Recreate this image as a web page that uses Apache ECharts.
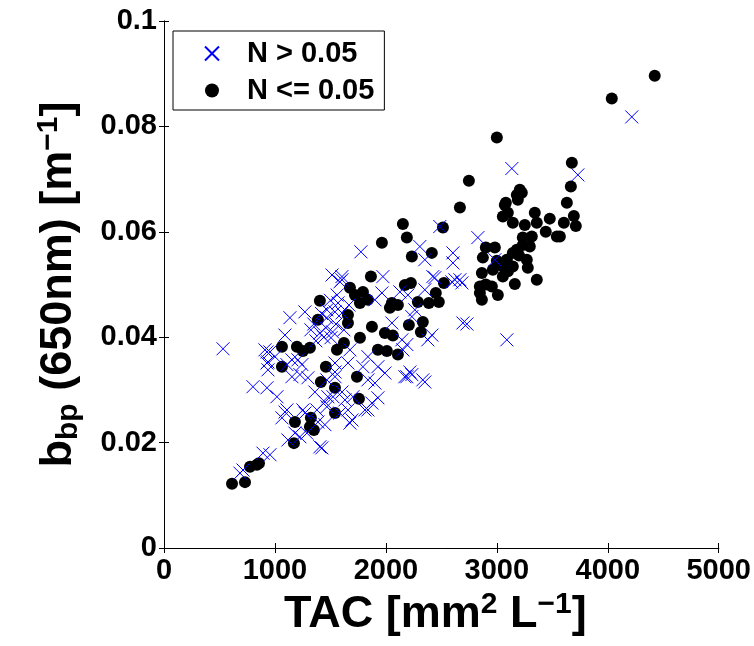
<!DOCTYPE html>
<html>
<head>
<meta charset="utf-8">
<script src="https://cdn.jsdelivr.net/npm/echarts@6/dist/echarts.min.js"></script>
<style>
html,body{margin:0;padding:0;background:#fff;}
#chart{width:754px;height:646px;}
</style>
</head>
<body>
<div id="chart"></div>
<script>
// ---- data (TAC [mm^2 L^-1], b_bp(650nm) [m^-1]) ----
const seriesNames = ['N > 0.05', 'N <= 0.05'];
const xTicks = [0, 1000, 2000, 3000, 4000, 5000];
const yTicks = [0, 0.02, 0.04, 0.06, 0.08, 0.1];

// N > 0.05 (blue crosses)
const crossData = [
  [4216,0.0818],[3730,0.0708],[3135,0.0720],[2829,0.0589],[2982,0.0547],[2685,0.0503],[2604,0.0560],[2604,0.0541],[2667,0.0509],[2486,0.0610],
  [1775,0.0562],[2306,0.0572],[2351,0.0547],[1973,0.0515],[2441,0.0513],[2622,0.0509],[2171,0.0325],[2216,0.0334],[2351,0.0315],[2730,0.0425],
  [3090,0.0395],[1694,0.0243],[1838,0.0262],[1514,0.0518],[1604,0.0509],[1135,0.0437],[1270,0.0448],[1090,0.0404],[532,0.0378],[928,0.0372],
  [1541,0.0448],[802,0.0306],[928,0.0304],[1018,0.0287],[1090,0.0258],[1063,0.0247],[955,0.0372],[928,0.0351],[1000,0.0363],[1153,0.0357],
  [1243,0.0348],[1225,0.0329],[1153,0.0325],[1297,0.0323],[1252,0.0262],[1378,0.0262],[1117,0.0205],[1225,0.0211],[1405,0.0192],[1288,0.0218],
  [1676,0.0237],[892,0.0180],[955,0.0177],[685,0.0142],[712,0.0148],[1586,0.0256],[1468,0.0319],[1703,0.0287],[1468,0.0268],[1523,0.0287],
  [1586,0.0505],[910,0.0376],[1108,0.0262],[1180,0.0218],[1270,0.0256],[1423,0.0190],[937,0.0353],[937,0.0338],[1108,0.0348],[1207,0.0357],
  [1360,0.0296],[1450,0.0277],[1477,0.0287],[1604,0.0296],[1450,0.0234],[1387,0.0239],[1541,0.0334],[1604,0.0515],[2423,0.0515],[2595,0.0505],
  [1964,0.0484],[1901,0.0471],[2126,0.0486],[2198,0.0480],[2351,0.0490],[2054,0.0427],[2261,0.0452],[2234,0.0439],[1568,0.0465],[1604,0.0446],
  [2414,0.0404],[2378,0.0395],[2144,0.0395],[2189,0.0386],[2153,0.0376],[1838,0.0363],[1793,0.0344],[1676,0.0376],[1658,0.0351],[1928,0.0344],
  [1991,0.0332],[2189,0.0325],[2234,0.0329],[2333,0.0319],[1838,0.0319],[1901,0.0313],[1874,0.0275],[1631,0.0281],[1658,0.0262],[1811,0.0262],
  [1928,0.0285],[2694,0.0427],[1541,0.0351],[1541,0.0325],[1405,0.0408],[1459,0.0418],[1505,0.0399],[1369,0.0393],[1550,0.0425],[1324,0.0414],
  [1622,0.0414],[1468,0.0437],[1468,0.0452],[1667,0.0461],[1350,0.0425],[1420,0.0445],[1500,0.0470],[1560,0.0480],[1440,0.0400],[1520,0.0410]
];

// N <= 0.05 (black dots)
const dotData = [
  [4423,0.0896],[4036,0.0853],[3000,0.0779],[3676,0.0731],[3667,0.0686],[3631,0.0655],[3694,0.0630],[3604,0.0617],[3712,0.0611],[3568,0.0591],
  [2748,0.0697],[2667,0.0646],[3072,0.0651],[3207,0.0680],[3180,0.0670],[3225,0.0674],[3189,0.0661],[3081,0.0655],[3054,0.0629],[3099,0.0636],
  [3342,0.0636],[3477,0.0625],[3144,0.0617],[3252,0.0613],[3360,0.0617],[3441,0.0600],[3541,0.0591],[3315,0.0591],[3234,0.0589],[3297,0.0572],
  [3180,0.0566],[3234,0.0575],[2901,0.0570],[2982,0.0570],[2874,0.0551],[3090,0.0547],[3144,0.0560],[3270,0.0547],[3279,0.0532],[2865,0.0522],
  [2964,0.0528],[3054,0.0534],[3144,0.0534],[3360,0.0509],[3162,0.0501],[2847,0.0496],[2847,0.0484],[2955,0.0496],[3009,0.0480],[2865,0.0471],
  [3054,0.0515],[2900,0.0500],[3000,0.0545],[3100,0.0525],[3200,0.0555],
  [2153,0.0615],[2514,0.0608],[1964,0.0579],[2189,0.0589],[2234,0.0553],[2414,0.0560],[1865,0.0515],[2171,0.0499],[2225,0.0503],[2523,0.0503],
  [1676,0.0494],[1721,0.0480],[1793,0.0486],[1838,0.0471],[1766,0.0465],[2054,0.0465],[2108,0.0461],[2036,0.0456],[2288,0.0467],[2387,0.0465],
  [2450,0.0484],[2477,0.0467],[1658,0.0442],[1658,0.0427],[1874,0.0420],[1991,0.0408],[2063,0.0403],[2207,0.0423],[2333,0.0429],[2315,0.0410],
  [1766,0.0399],[1622,0.0389],[1559,0.0376],[1928,0.0376],[2009,0.0374],[2108,0.0367],[1739,0.0325],[1541,0.0304],[1757,0.0283],[1541,0.0256],
  [1405,0.0469],[1387,0.0433],[1063,0.0382],[1198,0.0382],[1252,0.0374],[1315,0.0380],[1063,0.0344],[1459,0.0344],[1414,0.0315],
  [1180,0.0239],[1324,0.0247],[1315,0.0230],[1351,0.0224],[1171,0.0199],[775,0.0154],[838,0.0158],[856,0.0161],[613,0.0122],[730,0.0125]
];

const FONT = 'Liberation Sans, Arial, Helvetica, sans-serif';
const chart = echarts.init(document.getElementById('chart'), null, {renderer: 'canvas'});

const xmin = xTicks[0], xmax = xTicks[xTicks.length - 1], xint = xTicks[1] - xTicks[0];
const ymin = yTicks[0], ymax = yTicks[yTicks.length - 1], yint = yTicks[1] - yTicks[0];

const axisLineStyle = {show: true, lineStyle: {color: '#000', width: 1}};
const tickStyle = {show: true, inside: true, length: 5, lineStyle: {color: '#000', width: 1}};
const labelStyle = {color: '#000', fontSize: 29, fontWeight: 'bold', fontFamily: FONT};
const nameRich = {
  m: {fontSize: 45, fontWeight: 'bold', fontFamily: FONT, color: '#000', lineHeight: 50},
  sup: {fontSize: 30, fontWeight: 'bold', fontFamily: FONT, color: '#000', lineHeight: 16, verticalAlign: 'top'},
  sub: {fontSize: 30, fontWeight: 'bold', fontFamily: FONT, color: '#000', lineHeight: 20, verticalAlign: 'bottom'}
};

const crossPath = 'path://M0,0L10,10M10,0L0,10';

chart.setOption({
  animation: false,
  backgroundColor: '#fff',
  grid: {left: 164, right: 35, top: 21, bottom: 98, containLabel: false},
  legend: {
    data: [seriesNames[0], seriesNames[1]],
    orient: 'vertical',
    left: 173, top: 31,
    padding: [8, 10, 5, 31],
    itemGap: 8,
    itemWidth: 60, itemHeight: 14,
    backgroundColor: '#fff',
    borderColor: '#000', borderWidth: 1,
    textStyle: {fontSize: 29, fontWeight: 'bold', fontFamily: FONT, color: '#000'}
  },
  xAxis: [{
    type: 'value', min: xmin, max: xmax, interval: xint, position: 'bottom',
    axisLine: axisLineStyle, axisTick: tickStyle, splitLine: {show: false},
    axisLabel: Object.assign({margin: 8, formatter: v => String(v)}, labelStyle),
    name: '{m|TAC [mm}{sup|2}{m| L}{sup|\u22121}{m|]}',
    nameLocation: 'middle', nameGap: 38,
    nameTextStyle: {rich: nameRich, padding: [0, 12, 0, 0]}
  }, {
    type: 'value', min: xmin, max: xmax, interval: xint, position: 'top',
    axisLine: axisLineStyle, axisTick: tickStyle, splitLine: {show: false},
    axisLabel: {show: false}
  }],
  yAxis: [{
    type: 'value', min: ymin, max: ymax, interval: yint, position: 'left',
    axisLine: axisLineStyle, axisTick: tickStyle, splitLine: {show: false},
    axisLabel: Object.assign({margin: 7, formatter: v => String(+v.toFixed(2))}, labelStyle),
    name: '{m|b}{sub|bp}{m| (650nm) [m}{sup|\u22121}{m|]}',
    nameLocation: 'middle', nameGap: 80, nameRotate: 90,
    nameTextStyle: {rich: nameRich}
  }, {
    type: 'value', min: ymin, max: ymax, interval: yint, position: 'right',
    axisLine: axisLineStyle, axisTick: tickStyle, splitLine: {show: false},
    axisLabel: {show: false}
  }],
  series: [{
    name: seriesNames[1],
    type: 'scatter',
    data: dotData,
    symbol: 'circle',
    symbolSize: 12,
    itemStyle: {color: '#000', opacity: 1},
    z: 2
  }, {
    name: seriesNames[0],
    type: 'scatter',
    data: crossData,
    symbol: crossPath,
    symbolSize: 13,
    itemStyle: {color: 'rgba(0,0,0,0)', borderColor: '#0000ff', borderWidth: 1, opacity: 1},
    z: 3
  }]
});
</script>
</body>
</html>
